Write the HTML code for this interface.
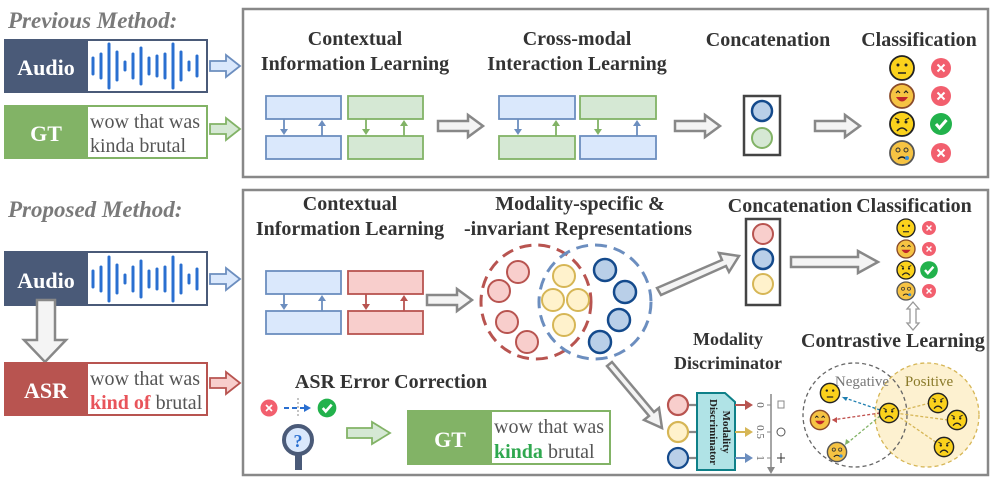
<!DOCTYPE html>
<html><head><meta charset="utf-8"><style>
html,body{margin:0;padding:0;background:#fff}
svg{display:block}
text{font-family:"Liberation Serif",serif}
.t{font-weight:bold;font-size:20px;fill:#333;text-anchor:middle}
</style></head><body>
<svg width="997" height="482" viewBox="0 0 997 482" xmlns="http://www.w3.org/2000/svg">
<defs>
<g id="hollowR"><path d="M0,-5 H30 V-11 L45,0 L30,11 V5 H0 Z" fill="#f4f4f4" stroke="#888" stroke-width="2.5"/></g>
<g id="xm"><circle r="10" fill="#f25f6e"/><path d="M-3.5,-3.5 L3.5,3.5 M3.5,-3.5 L-3.5,3.5" stroke="#fff" stroke-width="2"/></g>
<g id="ck"><circle r="11" fill="#22b24c"/><path d="M-5,0 L-1.5,4 L5.5,-4" stroke="#fff" stroke-width="3" fill="none"/></g>
<g id="eN"><circle r="12" fill="#fbd21c" stroke="#222" stroke-width="1.8"/><circle cx="-4" cy="-3" r="1.5" fill="#222"/><circle cx="4" cy="-3" r="1.5" fill="#222"/><path d="M-4,5 H4" stroke="#222" stroke-width="1.5"/></g>
<g id="eH"><circle r="12" fill="#f6c343" stroke="#8a4b2a" stroke-width="1.8"/><path d="M-6,-3 l2,-2 l2,2 M2,-3 l2,-2 l2,2" stroke="#222" fill="none" stroke-width="1.2"/><path d="M-6,1 Q0,10 6,1 Z" fill="#c0262a"/></g>
<g id="eA"><circle r="12" fill="#fbd21c" stroke="#222" stroke-width="1.8"/><circle cx="-4" cy="-2" r="1.5" fill="#222"/><circle cx="4" cy="-2" r="1.5" fill="#222"/><path d="M-7,-6 l4,2 M7,-6 l-4,2" stroke="#222" stroke-width="1.2"/><path d="M-5,7 Q0,1 5,7" stroke="#222" fill="none" stroke-width="1.6"/></g>
<g id="eC"><circle r="12" fill="#f6c343" stroke="#555" stroke-width="1.8"/><circle cx="-4" cy="-3" r="2" fill="none" stroke="#333"/><circle cx="4" cy="-3" r="2" fill="none" stroke="#333"/><path d="M-4,6 Q0,2 4,6" stroke="#222" fill="none" stroke-width="1.4"/><circle cx="5" cy="5" r="2" fill="#3a8fd8"/></g>
<g id="wave" stroke="#2a6fd0" stroke-width="3" stroke-linecap="round">
<path d="M5,-8V8 M13,-12V12 M21,-22V22 M29,-14V14 M37,-4V4 M45,-12V12 M53,-18V18 M61,-8V8 M69,-10V10 M77,-12V12 M85,-22V22 M93,-14V14 M101,-4V4 M109,-10V10"/></g>
</defs>

<!-- PREVIOUS -->
<text x="8" y="28" font-size="23" font-style="italic" font-weight="bold" fill="#7a7a7a">Previous Method:</text>
<rect x="5" y="40" width="202" height="52" fill="#fff" stroke="#4a5a78" stroke-width="2"/>
<rect x="5" y="40" width="83" height="52" fill="#4a5a78"/>
<text x="46" y="75" font-size="22" font-weight="bold" fill="#fff" text-anchor="middle">Audio</text>
<use href="#wave" x="88" y="66"/>
<rect x="5" y="106" width="202" height="52" fill="#fff" stroke="#82b366" stroke-width="2"/>
<rect x="5" y="106" width="83" height="52" fill="#82b366"/>
<text x="46" y="141" font-size="22" font-weight="bold" fill="#fff" text-anchor="middle">GT</text>
<text x="90" y="128" font-size="20" fill="#555">wow that was</text>
<text x="90" y="152" font-size="20" fill="#555">kinda brutal</text>
<path d="M210,61 H226 V55 L240,66 L226,77 V71 H210 Z" fill="#dae8fc" stroke="#6c8ebf" stroke-width="1.8"/>
<path d="M210,124 H226 V118 L240,129 L226,140 V134 H210 Z" fill="#d5e8d4" stroke="#82b366" stroke-width="1.8"/>

<rect x="243" y="9" width="745" height="168" fill="none" stroke="#888" stroke-width="2.5"/>
<text class="t" x="355" y="45">Contextual</text>
<text class="t" x="355" y="70">Information Learning</text>
<g stroke-width="1.8">
<rect x="266" y="96" width="75" height="23" fill="#dae8fc" stroke="#6c8ebf"/>
<rect x="348" y="96" width="75" height="23" fill="#d5e8d4" stroke="#82b366"/>
<rect x="266" y="136" width="75" height="23" fill="#dae8fc" stroke="#6c8ebf"/>
<rect x="348" y="136" width="75" height="23" fill="#d5e8d4" stroke="#82b366"/>
</g>
<path d="M284,119V131 M322,136V124" stroke="#6c8ebf" stroke-width="1.8"/>
<path d="M280,129L284,135L288,129Z M318,126L322,120L326,126Z" fill="#6c8ebf"/>
<path d="M366,119V131 M404,136V124" stroke="#82b366" stroke-width="1.8"/>
<path d="M362,129L366,135L370,129Z M400,126L404,120L408,126Z" fill="#82b366"/>
<use href="#hollowR" x="438" y="126"/>

<text class="t" x="577" y="45">Cross-modal</text>
<text class="t" x="577" y="70">Interaction Learning</text>
<g stroke-width="1.8">
<rect x="499" y="96" width="76" height="23" fill="#dae8fc" stroke="#6c8ebf"/>
<rect x="580" y="96" width="76" height="23" fill="#d5e8d4" stroke="#82b366"/>
<rect x="499" y="136" width="76" height="23" fill="#d5e8d4" stroke="#82b366"/>
<rect x="580" y="136" width="76" height="23" fill="#dae8fc" stroke="#6c8ebf"/>
</g>
<path d="M518,119V131" stroke="#6c8ebf" stroke-width="1.8"/><path d="M514,129L518,135L522,129Z" fill="#6c8ebf"/>
<path d="M556,136V124" stroke="#82b366" stroke-width="1.8"/><path d="M552,126L556,120L560,126Z" fill="#82b366"/>
<path d="M598,119V131" stroke="#82b366" stroke-width="1.8"/><path d="M594,129L598,135L602,129Z" fill="#82b366"/>
<path d="M637,136V124" stroke="#6c8ebf" stroke-width="1.8"/><path d="M633,126L637,120L641,126Z" fill="#6c8ebf"/>
<use href="#hollowR" x="675" y="126"/>

<text class="t" x="768" y="46">Concatenation</text>
<rect x="744" y="96" width="36" height="59" fill="#fff" stroke="#444" stroke-width="2.5"/>
<circle cx="762" cy="111" r="10" fill="#b9cfe8" stroke="#144a8c" stroke-width="2.5"/>
<circle cx="762" cy="138" r="10" fill="#d5e8d4" stroke="#82b366" stroke-width="2"/>
<use href="#hollowR" x="815" y="126"/>

<text class="t" x="919" y="46">Classification</text>
<use href="#eN" x="902" y="68"/><use href="#xm" x="941" y="68"/>
<use href="#eH" x="902" y="96"/><use href="#xm" x="941" y="96"/>
<use href="#eA" x="902" y="124"/><use href="#ck" x="941" y="124"/>
<use href="#eC" x="902" y="153"/><use href="#xm" x="941" y="153"/>

<!-- PROPOSED -->
<text x="8" y="217" font-size="23" font-style="italic" font-weight="bold" fill="#7a7a7a">Proposed Method:</text>
<rect x="5" y="252" width="202" height="53" fill="#fff" stroke="#4a5a78" stroke-width="2"/>
<rect x="5" y="252" width="83" height="53" fill="#4a5a78"/>
<text x="46" y="288" font-size="22" font-weight="bold" fill="#fff" text-anchor="middle">Audio</text>
<use href="#wave" x="88" y="279"/>
<path d="M210,274 H226 V268 L240,279 L226,290 V284 H210 Z" fill="#dae8fc" stroke="#6c8ebf" stroke-width="1.8"/>
<path d="M37,300 H55 V340 H66 L45,362 L24,340 H37 Z" fill="#f4f4f4" stroke="#888" stroke-width="2.5"/>
<rect x="5" y="363" width="202" height="52" fill="#fff" stroke="#b85450" stroke-width="2"/>
<rect x="5" y="363" width="83" height="52" fill="#b85450"/>
<text x="46" y="398" font-size="22" font-weight="bold" fill="#fff" text-anchor="middle">ASR</text>
<text x="90" y="385" font-size="20" fill="#555">wow that was</text>
<text x="90" y="409" font-size="20" fill="#555"><tspan fill="#e8545a" font-weight="bold">kind of</tspan> brutal</text>
<path d="M210,378 H226 V372 L240,383 L226,394 V388 H210 Z" fill="#f8cecc" stroke="#b85450" stroke-width="1.8"/>

<rect x="243" y="190" width="745" height="285" fill="none" stroke="#888" stroke-width="2.5"/>
<text class="t" x="350" y="210">Contextual</text>
<text class="t" x="350" y="235">Information Learning</text>
<g stroke-width="1.8">
<rect x="266" y="271" width="75" height="23" fill="#dae8fc" stroke="#6c8ebf"/>
<rect x="348" y="271" width="75" height="23" fill="#f8cecc" stroke="#b85450"/>
<rect x="266" y="311" width="75" height="23" fill="#dae8fc" stroke="#6c8ebf"/>
<rect x="348" y="311" width="75" height="23" fill="#f8cecc" stroke="#b85450"/>
</g>
<path d="M284,294V306 M322,311V299" stroke="#6c8ebf" stroke-width="1.8"/>
<path d="M280,304L284,310L288,304Z M318,301L322,295L326,301Z" fill="#6c8ebf"/>
<path d="M366,294V306 M404,311V299" stroke="#b85450" stroke-width="1.8"/>
<path d="M362,304L366,310L370,304Z M400,301L404,295L408,301Z" fill="#b85450"/>
<use href="#hollowR" x="427" y="300"/>

<text class="t" x="580" y="210">Modality-specific &amp;</text>
<text class="t" x="578" y="235">-invariant Representations</text>
<ellipse cx="536" cy="302" rx="55" ry="57" fill="none" stroke="#b85450" stroke-width="3" stroke-dasharray="12,7"/>
<ellipse cx="595" cy="302" rx="56" ry="57" fill="none" stroke="#6c8ebf" stroke-width="3" stroke-dasharray="12,7"/>
<g stroke-width="2">
<g fill="#f8cecc" stroke="#b85450"><circle cx="518" cy="272" r="11"/><circle cx="499" cy="291" r="11"/><circle cx="507" cy="322" r="11"/><circle cx="527" cy="342" r="11"/></g>
<g fill="#fff2cc" stroke="#d6b656"><circle cx="564" cy="276" r="11"/><circle cx="553" cy="300" r="11"/><circle cx="578" cy="300" r="11"/><circle cx="564" cy="325" r="11"/></g>
<g fill="#b9cfe8" stroke="#144a8c" stroke-width="2.5"><circle cx="605" cy="270" r="11"/><circle cx="625" cy="292" r="11"/><circle cx="619" cy="320" r="11"/><circle cx="600" cy="342" r="11"/></g>
</g>
<path d="M657,288 L722,260 L719,253 L739,256 L729,272 L726,266 L661,295 Z" fill="#f4f4f4" stroke="#888" stroke-width="2.5"/>

<text class="t" x="790" y="212">Concatenation</text>
<rect x="746" y="219" width="34" height="86" fill="#fff" stroke="#444" stroke-width="2.5"/>
<circle cx="763" cy="234" r="10" fill="#f8cecc" stroke="#b85450" stroke-width="2"/>
<circle cx="763" cy="259" r="10" fill="#b9cfe8" stroke="#144a8c" stroke-width="2.5"/>
<circle cx="763" cy="284" r="10" fill="#fff2cc" stroke="#d6b656" stroke-width="2"/>
<path d="M791,257 H858 V251 L878,262 L858,273 V267 H791 Z" fill="#f4f4f4" stroke="#888" stroke-width="2.5"/>

<text class="t" x="914" y="212">Classification</text>
<g transform="translate(906,228) scale(0.75)"><use href="#eN"/></g><g transform="translate(929,228) scale(0.7)"><use href="#xm"/></g>
<g transform="translate(906,249) scale(0.75)"><use href="#eH"/></g><g transform="translate(929,249) scale(0.7)"><use href="#xm"/></g>
<g transform="translate(906,270) scale(0.75)"><use href="#eA"/></g><g transform="translate(929,270) scale(0.8)"><use href="#ck"/></g>
<g transform="translate(906,291) scale(0.75)"><use href="#eC"/></g><g transform="translate(929,291) scale(0.7)"><use href="#xm"/></g>
<path d="M913,302 L919,309 H916 V323 H919 L913,330 L907,323 H910 V309 H907 Z" fill="#fff" stroke="#999" stroke-width="1.3"/>
<text class="t" x="893" y="347">Contrastive Learning</text>

<text class="t" x="728" y="345" style="font-size:18px">Modality</text>
<text class="t" x="728" y="369" style="font-size:18px">Discriminator</text>
<path d="M612,362 L654,412 L659,408 L662,428 L644,420 L649,416 L607,366 Z" fill="#f4f4f4" stroke="#888" stroke-width="2.5"/>
<g stroke-width="2.2">
<path d="M688,405 H697 M688,432 H697 M688,458 H697" stroke="#888"/>
<circle cx="678" cy="405" r="10" fill="#f8cecc" stroke="#b85450"/>
<circle cx="678" cy="432" r="10" fill="#fff2cc" stroke="#d6b656"/>
<circle cx="678" cy="458" r="10" fill="#b9cfe8" stroke="#144a8c"/>
</g>
<path d="M697,393 H725 L735,402 V470 H697 Z" fill="#b0e3e6" stroke="#0e8088" stroke-width="2"/>
<text transform="translate(723,432) rotate(90)" font-size="11" font-weight="bold" fill="#222" text-anchor="middle">Modality</text>
<text transform="translate(710,432) rotate(90)" font-size="11" font-weight="bold" fill="#222" text-anchor="middle">Discriminator</text>
<path d="M735,405 H746" stroke="#b85450" stroke-width="2"/><path d="M745,400 L753,405 L745,410Z" fill="#b85450"/>
<path d="M735,432 H746" stroke="#d6b656" stroke-width="2"/><path d="M745,427 L753,432 L745,437Z" fill="#d6b656"/>
<path d="M735,458 H746" stroke="#6c8ebf" stroke-width="2"/><path d="M745,453 L753,458 L745,463Z" fill="#6c8ebf"/>
<text transform="translate(757,405) rotate(90)" font-size="11" fill="#666" text-anchor="middle">0</text>
<text transform="translate(757,432) rotate(90)" font-size="11" fill="#666" text-anchor="middle">0.5</text>
<text transform="translate(757,458) rotate(90)" font-size="11" fill="#666" text-anchor="middle">1</text>
<path d="M771,394 V468" stroke="#888" stroke-width="1.5"/><path d="M767,467 L771,474 L775,467Z" fill="#888"/>
<path d="M767,405 H771 M767,432 H771 M767,458 H771" stroke="#888"/>
<rect x="778" y="401" width="6" height="7" fill="none" stroke="#888" stroke-width="1"/>
<circle cx="781" cy="432" r="4" fill="none" stroke="#555" stroke-width="1"/>
<path d="M777,458 H785 M781,453 V463" stroke="#333" stroke-width="1"/>

<circle cx="927" cy="415" r="52" fill="#fdefc8" fill-opacity="0.85" stroke="#d6b656" stroke-width="1.3" stroke-dasharray="4,3"/>
<circle cx="855" cy="415" r="52" fill="none" stroke="#666" stroke-width="1.3" stroke-dasharray="4,3"/>
<text x="862" y="386" font-size="15" fill="#777" text-anchor="middle">Negative</text>
<text x="929" y="386" font-size="15" fill="#8a7a2a" text-anchor="middle">Positive</text>
<g stroke-width="1.3" stroke-dasharray="3,2" fill="none">
<path d="M880,410 L842,397" stroke="#1f7fb0"/><path d="M880,413 L832,420" stroke="#c0504d"/><path d="M880,416 L845,445" stroke="#82b366"/>
<path d="M930,403 L895,412 M948,420 L895,413 M940,445 L895,414" stroke="#d6b656"/>
</g>
<path d="M842,397 l6,0 l-2,4Z" fill="#1f7fb0"/><path d="M832,420 l5,-3 l0,6Z" fill="#c0504d"/><path d="M845,445 l1,-6 l4,3Z" fill="#82b366"/>
<g transform="translate(830,393) scale(0.8)"><use href="#eN"/></g>
<g transform="translate(820,420) scale(0.8)"><use href="#eH"/></g>
<g transform="translate(837,452) scale(0.8)"><use href="#eC"/></g>
<g transform="translate(889,413) scale(0.8)"><use href="#eA"/></g>
<g transform="translate(938,403) scale(0.8)"><use href="#eA"/></g>
<g transform="translate(957,420) scale(0.8)"><use href="#eA"/></g>
<g transform="translate(944,447) scale(0.8)"><use href="#eA"/></g>

<text class="t" x="391" y="388">ASR Error Correction</text>
<g transform="translate(269,408) scale(0.85)"><use href="#xm"/></g>
<path d="M284,408 H305" stroke="#2a6fd0" stroke-width="2" stroke-dasharray="5,3"/><path d="M304,404 L311,408 L304,412Z" fill="#2a6fd0"/>
<path d="M298,398 V418" stroke="#888" stroke-width="1" stroke-dasharray="2,2"/>
<g transform="translate(327,408) scale(0.85)"><use href="#ck"/></g>
<circle cx="298" cy="440" r="14" fill="#dae8fc" stroke="#4a5a78" stroke-width="4"/>
<text x="298" y="447" font-size="18" font-weight="bold" fill="#2a6fd0" text-anchor="middle" font-family="Liberation Sans">?</text>
<rect x="295" y="455" width="7" height="15" fill="#4a5a78"/>
<path d="M347,428 H372 V422 L390,433 L372,444 V438 H347 Z" fill="#d5e8d4" stroke="#82b366" stroke-width="1.8"/>
<rect x="408" y="411" width="202" height="53" fill="#fff" stroke="#82b366" stroke-width="2"/>
<rect x="408" y="411" width="84" height="53" fill="#82b366"/>
<text x="450" y="447" font-size="22" font-weight="bold" fill="#fff" text-anchor="middle">GT</text>
<text x="494" y="433" font-size="20" fill="#555">wow that was</text>
<text x="494" y="458" font-size="20" fill="#555"><tspan fill="#2fa84f" font-weight="bold">kinda</tspan> brutal</text>
</svg>
</body></html>
